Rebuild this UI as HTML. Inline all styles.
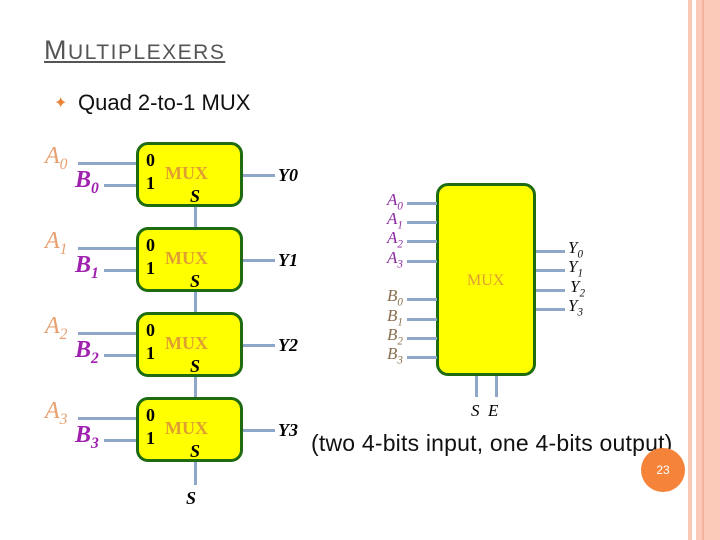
<!DOCTYPE html>
<html><head><style>
body{margin:0;width:720px;height:540px;background:#fff;position:relative;overflow:hidden;font-family:"Liberation Sans",sans-serif}
.a{position:absolute}
.box{position:absolute;background:#ffff00;border:3px solid #1e6b12;border-radius:12px;box-sizing:border-box}
.ln{position:absolute;background:#8ea6c8}
.s{font-family:"Liberation Serif",serif;font-style:italic;font-weight:bold}
.lab{position:absolute;font-family:"Liberation Serif",serif;font-style:italic;font-size:24px}
sub{font-size:65%}
</style></head><body>
<div class="a" style="left:688px;top:0;width:4px;height:540px;background:#f9c9b5"></div>
<div class="a" style="left:696px;top:0;width:24px;height:540px;background:#fbcab8"></div>
<div class="a" style="left:702px;top:0;width:2px;height:540px;background:#f4b49e"></div>
<div class="a" style="left:44px;top:35px;color:#555;font-size:21px;text-decoration:underline;letter-spacing:1.5px;white-space:nowrap"><span style="font-size:27px">M</span>ULTIPLEXERS</div>
<div class="a" style="left:54px;top:93px;color:#e8833a;font-size:16px">&#10022;</div>
<div class="a" style="left:78px;top:90px;font-size:22px;color:#111;white-space:nowrap">Quad 2-to-1 MUX</div>

<div id="L"></div>
<script>
var h='';
for(var i=0;i<4;i++){var y=142+85*i;
h+='<div class="box" style="left:136px;top:'+y+'px;width:107px;height:65px"></div>';
h+='<div class="ln" style="left:78px;top:'+(y+20)+'px;width:58px;height:3px"></div>';
h+='<div class="ln" style="left:104px;top:'+(y+42)+'px;width:32px;height:3px"></div>';
h+='<div class="ln" style="left:243px;top:'+(y+32)+'px;width:32px;height:3px"></div>';
h+='<div class="lab" style="left:45px;top:'+(y+1)+'px;color:#e8a070">A<sub>'+i+'</sub></div>';
h+='<div class="lab" style="left:75px;top:'+(y+25)+'px;color:#a020b0;font-weight:bold">B<sub>'+i+'</sub></div>';
h+='<div class="a" style="left:146px;top:'+(y+8)+'px;font:bold 18px Liberation Serif,serif">0</div>';
h+='<div class="a" style="left:146px;top:'+(y+31)+'px;font:bold 18px Liberation Serif,serif">1</div>';
h+='<div class="a" style="left:165px;top:'+(y+21)+'px;font:bold 18px Liberation Serif,serif;color:#e0a030">MUX</div>';
h+='<div class="a s" style="left:190px;top:'+(y+44)+'px;font-size:18px">S</div>';
h+='<div class="a s" style="left:278px;top:'+(y+23)+'px;font-size:18px">Y'+i+'</div>';
h+='<div class="ln" style="left:194px;top:'+(y+65)+'px;width:3px;height:'+(i<3?20:23)+'px"></div>';}
h+='<div class="a s" style="left:186px;top:488px;font-size:18px">S</div>';
h+='<div class="box" style="left:436px;top:183px;width:100px;height:193px"></div>';
h+='<div class="a" style="left:467px;top:272px;font:16px Liberation Serif,serif;color:#e0a030">MUX</div>';
var ay=[203,222,241,261],by=[299,319,338,357],yy=[251,270,290,309];
for(i=0;i<4;i++){
h+='<div class="ln" style="left:407px;top:'+(ay[i]-1)+'px;width:30px;height:3px"></div>';
h+='<div class="ln" style="left:407px;top:'+(by[i]-1)+'px;width:30px;height:3px"></div>';
h+='<div class="ln" style="left:536px;top:'+(yy[i]-1)+'px;width:29px;height:3px"></div>';
h+='<div class="lab" style="left:387px;top:'+(ay[i]-13)+'px;font-size:17px;color:#8a2aa0">A<sub>'+i+'</sub></div>';
h+='<div class="lab" style="left:387px;top:'+(by[i]-13)+'px;font-size:17px;color:#8a7050">B<sub>'+i+'</sub></div>';
h+='<div class="lab" style="left:'+(568+(i==2?2:0))+'px;top:'+(yy[i]-13)+'px;font-size:17px;color:#111">Y<sub>'+i+'</sub></div>';}
h+='<div class="ln" style="left:475px;top:376px;width:3px;height:21px"></div>';
h+='<div class="ln" style="left:495px;top:376px;width:3px;height:21px"></div>';
h+='<div class="lab" style="left:471px;top:401px;font-size:17px">S</div><div class="lab" style="left:488px;top:401px;font-size:17px">E</div>';
document.getElementById('L').innerHTML=h;
</script>
<div class="a" style="left:311px;top:430px;font-size:23px;color:#111;white-space:nowrap;letter-spacing:0.2px">(two 4-bits input, one 4-bits output)</div>
<div class="a" style="left:641px;top:448px;width:44px;height:44px;border-radius:50%;background:#f5843a;color:#fff;font-size:12px;text-align:center;line-height:44px">23</div>
</body></html>
